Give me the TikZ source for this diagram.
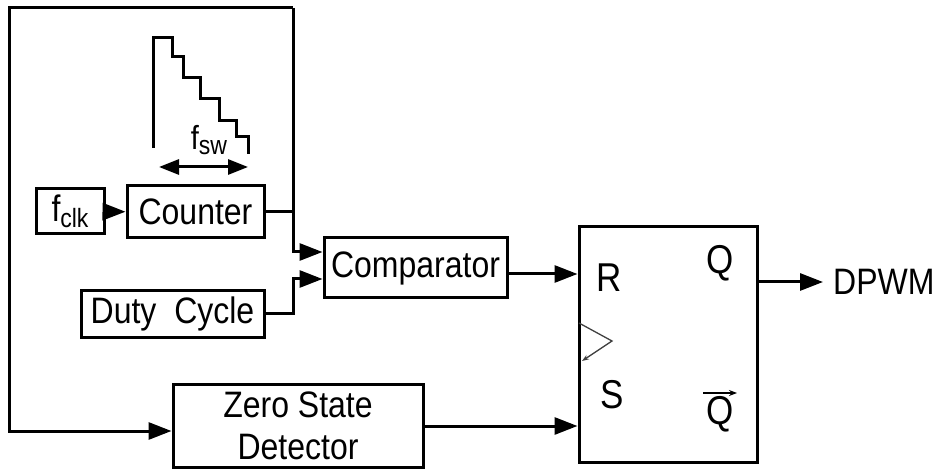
\documentclass[tikz,border=0pt]{standalone}
\usepackage{fontspec}
\setmainfont{Liberation Sans}
\usetikzlibrary{arrows.meta,calc}
\newcommand{\tx}[1]{\scalebox{1}[1.15]{#1}}
\begin{document}
\begin{tikzpicture}[x=1pt,y=-1pt,
 box/.style={draw,line width=3pt,rectangle,inner sep=0pt,font=\fontsize{32}{42}\selectfont,align=center},
 wire/.style={line width=3pt,line join=miter},
 arr/.style={wire,-{Triangle[length=23pt,width=17pt]}},
 lbl/.style={inner sep=0pt,font=\fontsize{32}{37}\selectfont}]
\useasboundingbox (0,0) rectangle (937,470);
% blocks
\node[box,minimum width=68pt,minimum height=45pt] (fclk) at (70,211.5) {\tx{f\raisebox{-5pt}{\fontsize{23}{23}\selectfont clk}}};
\node[box,minimum width=137pt,minimum height=52pt] (cnt) at (195.5,212) {\tx{Counter}};
\node[box,minimum width=183pt,minimum height=46pt] (duty) at (172.5,314) {\tx{Duty\ \ Cycle}};
\node[box,minimum width=183pt,minimum height=60pt] (cmp) at (415.5,268) {\tx{Comparator}};
\node[box,minimum width=250pt,minimum height=83pt] (zsd) at (298,425.5) {\tx{Zero State}\\\tx{Detector}};
\node[box,minimum width=178pt,minimum height=235pt] (ff) at (668,344.5) {};
% flip-flop labels
\node[lbl,font=\fontsize{35}{35}\selectfont] (r) at (609,278) {\tx{R}};
\node[lbl,font=\fontsize{35}{35}\selectfont] (s) at (612,395) {\tx{S}};
\node[lbl,font=\fontsize{35}{35}\selectfont] (q) at (720,263) {\tx{Q}};
\node[lbl,font=\fontsize{35}{35}\selectfont] (qb) at (720,414) {\tx{Q}};
\draw[line width=1.5pt,-{Stealth[length=8pt,width=6pt]}] (703,393) -- (737,393);
% clock triangle
\coordinate (k1) at (579,323);
\coordinate (k2) at (612,341);
\coordinate (k3) at (582,361);
\draw[black!75,line width=1.3pt,-{Stealth[length=7pt,width=5pt]}] (k1) -- (k2) -- (k3);
% output label
\node[lbl,inner xsep=10pt,anchor=west] (dpwm) at (823,282) {\tx{DPWM}};
% staircase
\draw[wire] (153,148) -- (153,38) -- (172,38) -- (172,57) -- (183,57) -- (183,78) -- (200,78) -- (200,99) -- (219,99) -- (219,121) -- (236,121) -- (236,137) -- (248,137) -- (248,154);
\coordinate (fa) at (159,167);
\coordinate (fb) at (248,167);
\draw[wire,{Triangle[length=20pt,width=15pt]}-{Triangle[length=20pt,width=15pt]}] (fa) -- (fb);
\node[lbl] (fsw) at (209,140) {\tx{\fontsize{29}{29}\selectfont f\raisebox{-4pt}{\fontsize{23}{23}\selectfont sw}}};
% connectors
\coordinate (tl) at (9,8);
\coordinate (tr) at (293,8);
\coordinate (bl) at (9,431);
\coordinate (c1) at ($(cmp.west)+(0,-16)$);
\coordinate (c2) at ($(cmp.west)+(0,11)$);
\coordinate (cout) at ($(cmp.east)+(0,6)$);
\coordinate (zout) at ($(zsd.east)+(0,0.5)$);
\draw[arr] (fclk) -- (cnt);
\draw[arr] (tr) -- (tl) -- (bl) -- (bl -| zsd.west);
\draw[arr] (tr) -- (tr |- c1) -- (c1);
\draw[wire] (cnt.east) -- (cnt.east -| tr);
\draw[arr] (duty.east) -- (duty.east -| tr) -- (tr |- c2) -- (c2);
\draw[arr] (cout) -- (cout -| ff.west);
\draw[arr] (zout) -- (zout -| ff.west);
\draw[arr] (ff.east |- dpwm) -- (dpwm.west);
\end{tikzpicture}
\end{document}
